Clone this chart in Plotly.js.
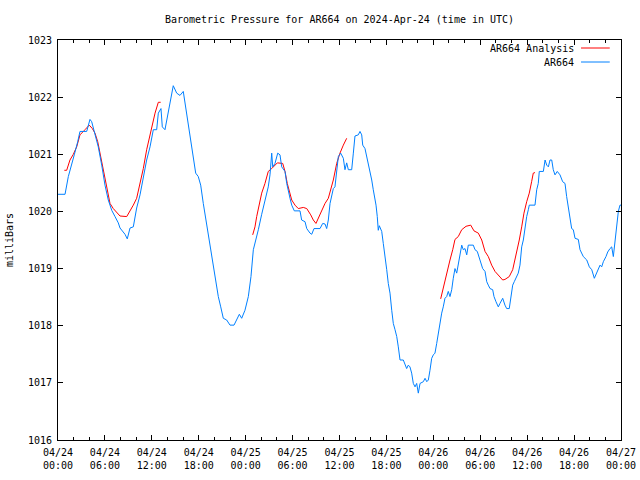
<!DOCTYPE html>
<html>
<head>
<meta charset="utf-8">
<script src="https://cdn.plot.ly/plotly-3.0.1.min.js"></script>
<style>html,body{margin:0;padding:0;background:#fff;}#chart{width:640px;height:480px;}</style>
</head>
<body>
<div id="chart"></div>
<script>
// Hours since 2024-04-24 00:00 UTC
var obsHours = [0.00,0.90,1.32,1.66,2.08,2.52,2.81,3.67,4.09,4.31,4.73,5.15,5.59,6.01,6.43,6.87,7.29,7.71,7.93,8.57,8.86,9.21,9.63,10.06,10.49,10.91,11.34,11.77,12.19,12.62,12.83,13.17,13.34,13.68,14.11,14.45,14.74,15.18,15.60,16.02,16.46,16.88,17.30,17.61,17.94,18.25,18.58,18.93,19.22,19.53,19.86,20.21,20.50,20.81,21.14,21.57,22.00,22.51,22.85,23.19,23.49,23.91,24.34,24.68,24.98,25.32,25.62,26.05,26.47,26.89,27.11,27.33,27.46,27.75,28.10,28.39,28.61,29.03,29.25,29.45,29.67,29.89,30.22,30.95,31.16,31.59,31.81,32.23,32.45,32.74,33.51,33.85,34.15,34.36,34.57,34.79,35.00,35.21,35.42,35.64,35.85,36.15,36.49,36.70,36.92,37.13,37.56,37.77,37.98,38.40,38.62,38.84,38.97,39.26,39.48,39.68,39.90,40.12,40.32,40.54,40.67,40.83,40.96,41.09,41.40,41.60,41.82,42.04,42.24,42.46,42.68,42.88,43.10,43.32,43.52,43.74,44.16,44.38,44.59,44.80,45.01,45.23,45.44,45.66,45.87,46.08,46.30,46.72,46.94,47.16,47.36,47.57,47.79,48.00,48.21,48.43,48.64,48.85,49.07,49.27,49.49,49.71,49.91,50.13,50.35,50.55,50.77,50.99,51.19,51.41,51.63,51.83,52.05,52.27,52.47,53.11,53.33,53.62,53.88,54.10,54.31,54.61,54.83,55.03,55.25,55.59,55.76,56.01,56.31,56.52,56.87,57.16,57.38,57.71,57.89,58.15,58.35,58.66,58.86,59.08,59.30,59.51,59.72,59.94,60.15,60.27,61.00,61.22,61.42,61.55,62.07,62.29,62.50,62.71,62.92,63.14,63.34,63.56,63.85,64.20,64.54,64.84,65.05,65.26,65.47,65.69,65.90,66.12,66.54,66.76,67.18,67.62,67.95,68.26,68.59,68.90,69.32,69.53,69.74,70.08,70.30,70.59,70.81,71.02,71.23,71.45,71.66,71.87,72.00];
var obsPressure = [1020.30,1020.30,1020.61,1020.80,1020.99,1021.22,1021.40,1021.40,1021.61,1021.57,1021.37,1021.13,1020.81,1020.46,1020.20,1020.02,1019.91,1019.80,1019.71,1019.60,1019.52,1019.71,1019.73,1020.06,1020.29,1020.61,1020.90,1021.13,1021.43,1021.43,1021.72,1021.80,1021.48,1021.43,1021.72,1022.01,1022.20,1022.07,1022.03,1022.10,1021.72,1021.37,1020.96,1020.67,1020.61,1020.46,1020.14,1019.85,1019.62,1019.38,1019.03,1018.74,1018.51,1018.33,1018.13,1018.10,1018.01,1018.01,1018.10,1018.20,1018.13,1018.27,1018.51,1018.86,1019.33,1019.50,1019.68,1019.95,1020.22,1020.43,1020.64,1021.02,1020.78,1020.84,1021.02,1020.99,1020.78,1020.70,1020.49,1020.35,1020.23,1020.11,1020.01,1020.01,1019.85,1019.82,1019.70,1019.62,1019.60,1019.70,1019.70,1019.79,1019.78,1019.70,1019.85,1020.14,1020.26,1020.40,1020.43,1020.67,1020.96,1021.02,1020.93,1020.73,1020.85,1020.73,1020.73,1021.02,1021.32,1021.34,1021.40,1021.34,1021.16,1021.10,1020.96,1020.84,1020.73,1020.55,1020.38,1020.23,1020.11,1019.91,1019.67,1019.75,1019.65,1019.44,1019.15,1018.98,1018.74,1018.57,1018.27,1018.04,1017.93,1017.81,1017.63,1017.40,1017.40,1017.31,1017.25,1017.31,1017.28,1017.17,1016.99,1016.93,1016.99,1016.82,1016.99,1017.02,1017.08,1017.02,1017.05,1017.22,1017.43,1017.49,1017.52,1017.69,1017.87,1018.10,1018.22,1018.33,1018.48,1018.51,1018.60,1018.51,1018.63,1018.83,1019.00,1018.92,1019.06,1019.24,1019.41,1019.33,1019.35,1019.24,1019.41,1019.41,1019.33,1019.30,1019.18,1019.12,1019.00,1018.95,1018.77,1018.71,1018.65,1018.63,1018.51,1018.42,1018.33,1018.39,1018.48,1018.36,1018.30,1018.30,1018.51,1018.71,1018.77,1018.87,1018.92,1019.06,1019.38,1019.50,1019.75,1019.91,1020.03,1020.11,1020.11,1020.38,1020.49,1020.70,1020.70,1020.90,1020.81,1020.78,1020.90,1020.90,1020.73,1020.64,1020.70,1020.64,1020.52,1020.49,1020.26,1020.08,1019.91,1019.70,1019.68,1019.53,1019.51,1019.33,1019.21,1019.15,1019.03,1018.98,1018.83,1018.92,1019.06,1019.03,1019.12,1019.21,1019.29,1019.35,1019.38,1019.21,1019.50,1019.76,1020.00,1020.11,1020.11];

// Analysis segments (null separates the three 12-hour runs)
var anaHours = [0.81,1.11,1.53,1.96,2.39,2.81,3.45,4.00,4.39,4.73,5.08,5.37,5.67,6.01,6.36,6.65,7.07,7.51,7.93,8.79,9.21,9.63,10.06,10.49,10.91,11.34,11.77,11.98,12.41,12.83,13.13,
  null,
  24.90,25.19,25.41,25.74,26.05,26.47,26.89,27.33,27.75,28.05,28.74,29.03,29.32,29.58,29.89,30.31,30.73,31.37,31.81,32.32,32.65,32.99,33.29,33.72,34.15,34.57,34.87,35.21,35.64,36.06,36.49,36.92,
  null,
  48.94,49.20,49.49,49.79,50.13,50.48,50.77,51.19,51.63,52.18,52.78,53.20,53.75,54.19,54.61,55.03,55.46,55.89,56.31,56.87,57.16,57.71,58.15,58.44,58.74,58.99,59.30,59.59,59.94,60.27,60.57,60.78,61.00];
var anaPressure = [1020.72,1020.72,1020.90,1021.00,1021.13,1021.34,1021.43,1021.51,1021.45,1021.37,1021.22,1021.02,1020.81,1020.64,1020.38,1020.14,1020.05,1019.98,1019.92,1019.91,1020.00,1020.11,1020.23,1020.49,1020.75,1021.08,1021.34,1021.51,1021.72,1021.91,1021.91,
  null,
  1019.59,1019.73,1019.91,1020.11,1020.32,1020.49,1020.70,1020.75,1020.81,1020.85,1020.84,1020.70,1020.49,1020.35,1020.20,1020.11,1020.05,1020.07,1020.05,1019.94,1019.85,1019.79,1019.88,1020.03,1020.14,1020.23,1020.38,1020.55,1020.84,1021.02,1021.16,1021.28,
  null,
  1018.47,1018.63,1018.80,1018.98,1019.15,1019.33,1019.51,1019.56,1019.68,1019.74,1019.76,1019.66,1019.62,1019.50,1019.30,1019.21,1019.06,1018.95,1018.89,1018.80,1018.81,1018.86,1018.98,1019.15,1019.33,1019.50,1019.73,1019.97,1020.17,1020.32,1020.52,1020.67,1020.68];

var xTickVals = [0,6,12,18,24,30,36,42,48,54,60,66,72];
var xTickText = ["04/24<br>00:00","04/24<br>06:00","04/24<br>12:00","04/24<br>18:00","04/25<br>00:00","04/25<br>06:00","04/25<br>12:00","04/25<br>18:00","04/26<br>00:00","04/26<br>06:00","04/26<br>12:00","04/26<br>18:00","04/27<br>00:00"];
var yTickVals = [1016,1017,1018,1019,1020,1021,1022,1023];

var seriesNames = ["AR664 Analysis","AR664"];
var seriesColors = ["#ff0000","#0080ff"];

var FONT = "DejaVu Sans Mono, Liberation Mono, monospace";

var traces = [
  {x: anaHours, y: anaPressure, name: seriesNames[0], type: "scatter", mode: "lines",
   line: {color: seriesColors[0], width: 1}, connectgaps: false, hoverinfo: "skip"},
  {x: obsHours, y: obsPressure, name: seriesNames[1], type: "scatter", mode: "lines",
   line: {color: seriesColors[1], width: 1}, hoverinfo: "skip"}
];

// gnuplot-style legend: text right-aligned, line sample to the right
var legendY = [0.98, 0.945];
var annotations = [];
var shapes = [];
for (var i = 0; i < seriesNames.length; i++) {
  annotations.push({xref: "paper", yref: "paper", x: 0.92, y: legendY[i], xanchor: "right", yanchor: "middle",
    text: seriesNames[i], showarrow: false, font: {family: FONT, size: 10, color: "#000"}});
  shapes.push({type: "line", xref: "paper", yref: "paper", x0: 0.929, x1: 0.98, y0: legendY[i], y1: legendY[i],
    line: {color: seriesColors[i], width: 1}});
}

var layout = {
  width: 640, height: 480,
  margin: {l: 58, r: 19, t: 40, b: 40, pad: 0},
  paper_bgcolor: "#fff", plot_bgcolor: "#fff",
  font: {family: FONT, size: 10, color: "#000"},
  showlegend: false,
  title: {text: "Barometric Pressure for AR664 on 2024-Apr-24 (time in UTC)", xref: "paper", x: 0.5, xanchor: "center",
    yref: "container", y: 0.96, yanchor: "middle", font: {family: FONT, size: 10, color: "#000"}},
  xaxis: {range: [0, 72], tickvals: xTickVals, ticktext: xTickText, ticks: "inside", ticklen: 5,
    tickcolor: "#000", tickwidth: 1, showline: true, linecolor: "#000", linewidth: 1, mirror: "ticks",
    showgrid: false, zeroline: false, tickfont: {family: FONT, size: 10}, ticklabelstandoff: 3,
    minor: {dtick: 2, tick0: 0, ticks: "inside", ticklen: 3, tickcolor: "#000", showgrid: false}},
  yaxis: {range: [1016, 1023], tickvals: yTickVals, ticks: "inside", ticklen: 5, tickcolor: "#000",
    tickwidth: 1, showline: true, linecolor: "#000", linewidth: 1, mirror: "ticks", showgrid: false,
    zeroline: false, tickfont: {family: FONT, size: 10}, ticklabelstandoff: 3,
    title: {text: "milliBars", font: {family: FONT, size: 10}, standoff: 12}},
  annotations: annotations,
  shapes: shapes
};

Plotly.newPlot("chart", traces, layout, {staticPlot: true, displayModeBar: false});
</script>
</body>
</html>
